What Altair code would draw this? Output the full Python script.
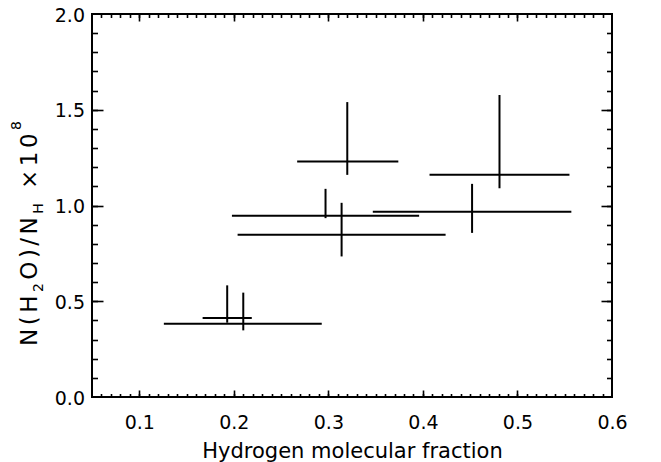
import altair as alt
import pandas as pd

# ---- data ----
frac = [0.320, 0.481, 0.452, 0.297, 0.314, 0.193, 0.210]
frac_lo = [0.267, 0.407, 0.347, 0.198, 0.204, 0.167, 0.126]
frac_hi = [0.374, 0.555, 0.557, 0.396, 0.424, 0.219, 0.293]
ratio = [1.230, 1.160, 0.967, 0.946, 0.847, 0.412, 0.383]
ratio_lo = [1.160, 1.090, 0.857, 0.934, 0.734, 0.388, 0.348]
ratio_hi = [1.540, 1.577, 1.113, 1.087, 1.014, 0.583, 0.545]

x_labels = [0.1, 0.2, 0.3, 0.4, 0.5, 0.6]
y_labels = [0.0, 0.5, 1.0, 1.5, 2.0]
x_major = [0.1, 0.2, 0.3, 0.4, 0.5]
y_major = [0.5, 1.0, 1.5]
x_minor = [round(0.05 + 0.01 * i, 2) for i in range(1, 55)]
y_minor = [round(0.1 * i, 1) for i in range(1, 20)]

df = pd.DataFrame({"frac": frac, "flo": frac_lo, "fhi": frac_hi,
                   "ratio": ratio, "rlo": ratio_lo, "rhi": ratio_hi})

W, H = 520, 383
PAD_L, PAD_T = 92, 14
FONT = "DejaVu Sans"

xs = alt.Scale(domain=[0.05, 0.6], nice=False, zero=False)
ys = alt.Scale(domain=[0.0, 2.0], nice=False, zero=False)

x_label_axis = alt.Axis(orient="bottom", values=x_labels, format=".1f", ticks=False, tickSize=0,
                        domain=False, grid=False, labelPadding=16, labelFontSize=19, labelFont=FONT,
                        labelColor="black", labelFlush=False, labelOverlap=False,
                        title="Hydrogen molecular fraction", titleFontSize=21, titleFont=FONT,
                        titleFontWeight="normal", titleColor="black", titleBaseline="alphabetic",
                        titleY=60)
y_label_axis = alt.Axis(orient="left", values=y_labels, format=".1f", ticks=False, tickSize=0,
                        domain=False, grid=False, labelPadding=7.5, labelFontSize=19, labelFont=FONT,
                        labelColor="black", labelBaseline="middle", labelOffset=1,
                        labelFlush=False, labelOverlap=False, title=None)


def tick_axis(orient, values, size):
    return alt.Axis(orient=orient, values=values, tickSize=size, offset=-size, labels=False,
                    domain=False, grid=False, title=None, ticks=True, tickColor="black",
                    tickWidth=1.6)


hbars = alt.Chart(df).mark_rule(color="black", strokeWidth=2).encode(
    x=alt.X("flo:Q", scale=xs, axis=x_label_axis),
    x2="fhi:Q",
    y=alt.Y("ratio:Q", scale=ys, axis=y_label_axis),
)
vbars = alt.Chart(df).mark_rule(color="black", strokeWidth=2).encode(
    x=alt.X("frac:Q", scale=xs, axis=None),
    y=alt.Y("rlo:Q", scale=ys, axis=None),
    y2="rhi:Q",
)


def tick_layer(xorient, xvals, xlen, yorient, yvals, ylen):
    return alt.Chart(df).mark_point(opacity=0).encode(
        x=alt.X("frac:Q", scale=xs, axis=tick_axis(xorient, xvals, xlen)),
        y=alt.Y("ratio:Q", scale=ys, axis=tick_axis(yorient, yvals, ylen)),
    )


t1 = tick_layer("bottom", x_major, 7, "left", y_major, 11)
t2 = tick_layer("bottom", x_minor, 3.5, "left", y_minor, 5.5)
t3 = tick_layer("top", x_major, 7, "right", y_major, 11)
t4 = tick_layer("top", x_minor, 3.5, "right", y_minor, 5.5)

# ---- y title built from glyphs (sub/superscripts) ----
glyphs = [("N", "m"), ("(", "m"), ("H", "m"), ("2", "b"), ("O", "m"), (")", "m"), ("/", "m"),
          ("N", "m"), ("H", "b"), (" ", "m"), ("×", "m"), ("1", "m"), ("0", "m"), ("8", "p")]
adv = {"N": .748, "(": .390, "H": .752, "2": .636, "O": .787, ")": .390, "/": .337,
       " ": .318, "×": .838, "1": .636, "0": .636, "8": .636}
fsz = {"m": 23, "b": 14, "p": 14}
base_x = {"m": 37.0, "b": 42.5, "p": 21.0}
start_y, end_y = 346.0, 121.0
total = sum(adv[c] * fsz[k] for c, k in glyphs)
track = ((start_y - end_y) - total) / (len(glyphs) - 1)
rows = []
cur = start_y
for c, k in glyphs:
    rows.append({"ch": c, "xp": base_x[k] - PAD_L, "yp": cur - PAD_T, "fs": fsz[k]})
    cur -= adv[c] * fsz[k] + track
tdf = pd.DataFrame(rows)
ytitle = alt.Chart(tdf).mark_text(angle=270, align="left", baseline="alphabetic", font=FONT,
                                  color="black").encode(
    x=alt.X("xp:Q", scale=None, axis=None),
    y=alt.Y("yp:Q", scale=None, axis=None),
    text="ch:N",
    size=alt.Size("fs:Q", scale=None, legend=None),
)

chart = alt.layer(hbars, vbars, t1, t2, t3, t4, ytitle).resolve_scale(
    x="independent", y="independent"
).properties(
    width=W, height=H,
    autosize=alt.AutoSizeParams(type="none"),
    padding={"left": PAD_L, "top": PAD_T, "right": 661 - PAD_L - W, "bottom": 462 - PAD_T - H},
    background="white",
).configure_view(stroke="black", strokeWidth=2)

chart.save("out.html", embed_options={"renderer": "svg", "actions": False})
